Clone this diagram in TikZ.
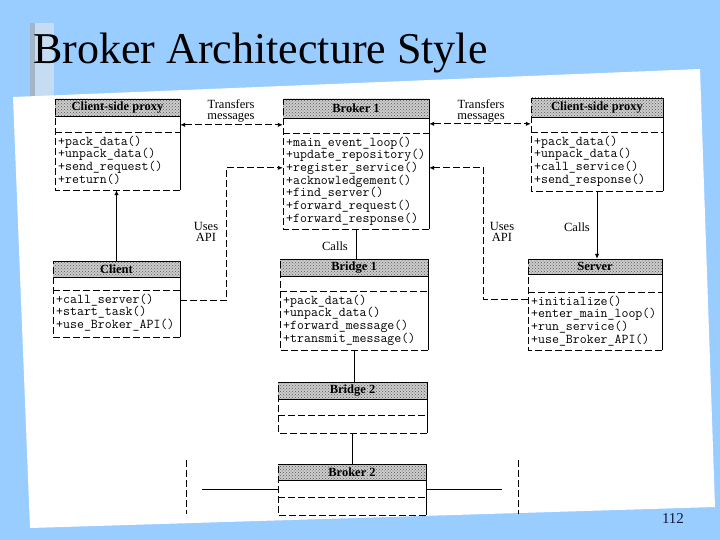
\documentclass[tikz,border=0pt]{standalone}
\usepackage{fontspec}
\setmainfont{Liberation Serif}
\usetikzlibrary{calc,fit,patterns,arrows.meta}
\definecolor{bgblue}{RGB}{153,204,255}
\definecolor{barlight}{RGB}{198,220,242}
\definecolor{bardark}{RGB}{163,181,198}
\definecolor{pgnum}{RGB}{20,24,60}
\tikzset{
  solidedge/.style={line width=0.9pt},
  scanedge/.style={line width=0.9pt, dash pattern=on 7pt off 3pt},
  bandfill/.style={fill=gray!40, postaction={pattern=crosshatch dots, pattern color=black!65}},
  classname/.style={font=\bfseries\fontsize{12.5}{13}\selectfont, inner sep=1pt},
  methods/.style={font=\ttfamily\fontsize{13.5}{12.7}\selectfont, align=left, anchor=north west, inner sep=0pt},
  lbl/.style={font=\fontsize{12.5}{11}\selectfont, align=center, inner sep=0pt},
  conn/.style={line width=0.9pt},
  scanconn/.style={line width=0.9pt, dash pattern=on 7pt off 3pt},
  tip/.style={-{Latex[length=5pt,width=4.5pt]}},
  tips/.style={{Latex[length=5pt,width=4.5pt]}-{Latex[length=5pt,width=4.5pt]}}
}
% #1 name, #2 x1, #3 y1, #4 x2, #5 y2, #6 band y, #7 separator y, #8 title, #9 methods
\newcommand{\umlclass}[9]{%
  \node[fit={(#2,#3) (#4,#5)}, inner sep=0pt, draw=none] (#1) {};
  \fill[bandfill] (#2,#3) rectangle (#4,#6);
  \draw[solidedge] (#2,#3) -- (#4,#3) -- (#4,#5);
  \draw[scanedge] (#4,#5) -- (#2,#5) -- (#2,#3);
  \draw[solidedge] (#2,#6) -- (#4,#6);
  \draw[scanedge] (#2,#7) -- (#4,#7);
  \node[classname] (#1-name) at ({(#2+#4)/2},{(#3+#6)/2}) {#8};
  \node[methods] (#1-ops) at (#2+3,#7+3.5) {#9};
}
\begin{document}
\begin{tikzpicture}[x=1pt,y=-1pt]
\useasboundingbox (0,0) rectangle (720,540);
\fill[bgblue] (0,0) rectangle (720,540);
% title bar
\fill[barlight] (30,23) rectangle (54,100);
\fill[bardark] (30,23) rectangle (34.5,100);
% scanned page
\fill[white] (13,97) -- (700,69) -- (715,507) -- (30,528) -- cycle;
% title
\node[anchor=base west, inner sep=0pt, font=\fontsize{44}{48}\selectfont] (title) at (33,64) {Broker Architecture Style};

% classes
\umlclass{csp}{55}{99}{180}{190}{116}{132}{Client-side proxy}
  {+pack\_data()\\+unpack\_data()\\+send\_request()\\+return()}
\umlclass{b1}{283}{99}{429}{229}{118}{133}{Broker 1}
  {+main\_event\_loop()\\+update\_repository()\\+register\_service()\\+acknowledgement()\\+find\_server()\\+forward\_request()\\+forward\_response()}
\umlclass{ssp}{531}{98}{663}{191}{117}{132}{Client-side proxy}
  {+pack\_data()\\+unpack\_data()\\+call\_service()\\+send\_response()}
\umlclass{cl}{53}{261}{180}{337}{277}{290}{Client}
  {+call\_server()\\+start\_task()\\+use\_Broker\_API()}
\umlclass{br1}{280}{259}{428}{350}{276}{291}{Bridge 1}
  {+pack\_data()\\+unpack\_data()\\+forward\_message()\\+transmit\_message()}
\umlclass{sv}{528}{259}{662}{350}{274}{292}{Server}
  {+initialize()\\+enter\_main\_loop()\\+run\_service()\\+use\_Broker\_API()}
\umlclass{br2}{278}{382}{427}{433}{399}{415}{Bridge 2}{}
\umlclass{bk2}{278}{464}{426}{515}{480}{497}{Broker 2}{}

% transfers messages
\coordinate (t1) at ($(csp.north east)+(0,26)$);
\draw[scanconn,tips] (t1) -- (t1 -| b1.west);
\node[lbl] (tm1) at (231,111) {Transfers\\messages};
\coordinate (t2) at ($(b1.north east)+(0,25)$);
\draw[scanconn,tips] (t2) -- (t2 -| ssp.west);
\node[lbl] (tm2) at (481,111) {Transfers\\messages};

% uses API
\coordinate (ua1) at ($(cl.north east)+(0,40)$);
\draw[scanconn,tip] (ua1) -- ++(46,0) |- ($(b1.north west)+(0,69)$);
\node[lbl] (uapi1) at (206,232) {Uses\\API};
\coordinate (ua2) at ($(sv.north west)+(0,41)$);
\draw[scanconn,tip] (ua2) -- ++(-44,0) |- ($(b1.north east)+(0,69)$);
\node[lbl] (uapi2) at (502,232) {Uses\\API};

% calls
\draw[conn,tip] (cl.north) -- (cl.north |- csp.south);
\draw[conn,tip] (ssp.south) -- (ssp.south |- sv.north);
\node[lbl] (calls2) at (577,227) {Calls};
\draw[conn] (b1.south) -- (b1.south |- br1.north);
\node[lbl] (calls1) at (335,246) {Calls};
\draw[conn] (br1.south) -- (br1.south |- br2.north);
\draw[conn] (br2.south) -- (br2.south |- bk2.north);

% broker 2 free ends
\coordinate (bl) at ($(bk2.west)+(-76,0)$);
\coordinate (br) at ($(bk2.east)+(76,0)$);
\draw[conn] (bk2.west) -- (bl);
\draw[conn] (bk2.east) -- (br);
\coordinate (dl1) at (186,460);
\coordinate (dl2) at (186,514);
\coordinate (dr1) at (518,460);
\coordinate (dr2) at (518,514);
\draw[scanconn] (dl1) -- (dl2);
\draw[scanconn] (dr1) -- (dr2);

% page number
\node[anchor=base, inner sep=0pt, text=pgnum, font=\fontsize{15}{15}\selectfont] (pg) at (673,523) {112};
\end{tikzpicture}
\end{document}
